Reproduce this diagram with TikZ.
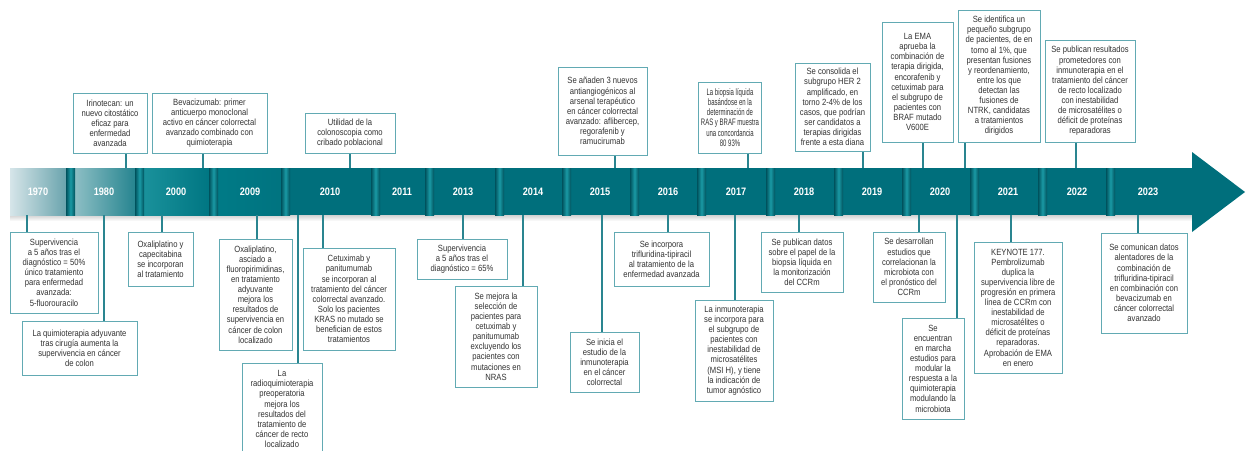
\documentclass[tikz,border=0pt]{standalone}
\usepackage{fontspec}
\setmainfont[FakeStretch=0.85]{Liberation Sans}
\newfontfamily\narrowfont[FakeStretch=0.64]{Liberation Sans}

\definecolor{bandc}{HTML}{006F7C}
\definecolor{divd}{HTML}{00525D}
\definecolor{divl}{HTML}{1A9AA5}
\definecolor{boxc}{HTML}{62AAB3}
\definecolor{linkc}{HTML}{2A8590}
\definecolor{txtc}{HTML}{333333}
\definecolor{lighta}{HTML}{D6E5E9}
\definecolor{lightb}{HTML}{6AA4AD}

\begin{document}
\begin{tikzpicture}[x=0.5pt, y=-0.5pt,
  evt/.style={draw=boxc, fill=white, line width=0.5pt, align=center, inner sep=1pt,
    text=txtc, font=\fontsize{4.5}{5.05}\selectfont},
  link/.style={draw=linkc, line width=0.8pt},
  year/.style={text=white, font=\fontsize{5.4}{6}\selectfont\bfseries}]
  \useasboundingbox (0,0) rectangle (1251,450);

  % Banda
  \shade[top color=black!18, bottom color=white] (10,215) rectangle (1192,221);
  \fill[bandc] (10,168) rectangle (1192,215);
  \fill[bandc] (1192,152) -- (1245,192) -- (1192,232) -- cycle;
  \shade[left color=lighta, right color=lightb] (10,168) rectangle (66,215);
  \shade[left color=bandc!45!white, right color=bandc!85!white] (75,168) rectangle (135,215);
  \shade[left color=bandc!85!cyan!90!white, right color=bandc!95!cyan] (144,168) rectangle (209,215);
  \shade[left color=bandc!92!cyan, right color=bandc!97!cyan] (218,168) rectangle (281,215);
  \foreach \d in {66,135,209,281,371,425,495,562,630,697,766,834,902,970,1038,1106}
    \shade[left color=divd, right color=divd, middle color=divl] (\d,168) rectangle (\d+9,215);

  % Años
  \foreach \yr/\x in {1970/38, 1980/104, 2000/176, 2009/250, 2010/330, 2011/402, 2013/463,
      2014/533, 2015/600, 2016/668, 2017/736, 2018/804, 2019/872, 2020/940, 2021/1008,
      2022/1077, 2023/1148}
    \node[year] (y\yr) at (\x,191.5) {\yr};

  % Arriba
  \node[evt, minimum width=37pt, minimum height=30pt] (irino) at (110,123)
    {Irinotecan: un\\nuevo citostático\\eficaz para\\enfermedad\\avanzada};
  \node[evt, minimum width=57.5pt, minimum height=30pt] (bevaci) at (209.5,123)
    {Bevacizumab: primer\\anticuerpo monoclonal\\activo en cáncer colorrectal\\avanzado combinado con\\quimioterapia};
  \node[evt, minimum width=45pt, minimum height=20pt] (colono) at (350,133)
    {Utilidad de la\\colonoscopia como\\cribado poblacional};
  \node[evt, minimum width=44.5pt, minimum height=44pt] (antiang) at (602.5,111)
    {Se añaden 3 nuevos\\antiangiogénicos al\\arsenal terapéutico\\en cáncer colorrectal\\avanzado: aflibercep,\\regorafenib y\\ramucirumab};
  \node[evt, minimum width=31pt, minimum height=35.5pt, font=\narrowfont\fontsize{4.7}{5.05}\selectfont] (biopsia) at (730,117.5)
    {La biopsia líquida\\basándose en la\\determinación de\\RAS y BRAF muestra\\una concordancia\\80 93\%};
  \node[evt, minimum width=37.5pt, minimum height=44pt] (consolida) at (832.5,107)
    {Se consolida el\\subgrupo HER 2\\amplificado, en\\torno 2-4\% de los\\casos, que podrían\\ser candidatos a\\terapias dirigidas\\frente a esta diana};
  \node[evt, minimum width=35.5pt, minimum height=60pt] (ema) at (917.5,82)
    {La EMA\\aprueba la\\combinación de\\terapia dirigida,\\encorafenib y\\cetuximab para\\el subgrupo de\\pacientes con\\BRAF mutado\\V600E};
  \node[evt, minimum width=41pt, minimum height=66pt] (ntrk) at (999,76)
    {Se identifica un\\pequeño subgrupo\\de pacientes, de en\\torno al 1\%, que\\presentan fusiones\\y reordenamiento,\\entre los que\\detectan las\\fusiones de\\NTRK, candidatas\\a tratamientos\\dirigidos};
  \node[evt, minimum width=45pt, minimum height=51pt] (recto) at (1090,91)
    {Se publican resultados\\prometedores con\\inmunoterapia en el\\tratamiento del cáncer\\de recto localizado\\con inestabilidad\\de microsatélites o\\déficit de proteínas\\reparadoras};

  % Abajo
  \node[evt, minimum width=44pt, minimum height=40.5pt] (surv50) at (54,272.5)
    {Supervivencia\\a 5 años tras el\\diagnóstico = 50\%\\único tratamiento\\para enfermedad\\avanzada:\\5-fluorouracilo};
  \node[evt, minimum width=57.5pt, minimum height=27pt] (quimio) at (79.5,348)
    {La quimioterapia adyuvante\\tras cirugía aumenta la\\supervivencia en cáncer\\de colon};
  \node[evt, minimum width=32.5pt, minimum height=27pt] (oxcap) at (160.5,259)
    {Oxaliplatino y\\capecitabina\\se incorporan\\al tratamiento};
  \node[evt, minimum width=36.5pt, minimum height=55.5pt] (oxflu) at (255.5,294.5)
    {Oxaliplatino,\\asciado a\\fluoropirimidinas,\\en tratamiento\\adyuvante\\mejora los\\resultados de\\supervivencia en\\cáncer de colon\\localizado};
  \node[evt, minimum width=40pt, minimum height=46pt] (radio) at (282,409)
    {La\\radioquimioterapia\\preoperatoria\\mejora los\\resultados del\\tratamiento de\\cáncer de recto\\localizado};
  \node[evt, minimum width=46pt, minimum height=51pt] (cetux) at (349,299)
    {Cetuximab y\\panitumumab\\se incorporan al\\tratamiento del cáncer\\colorrectal avanzado.\\Solo los pacientes\\KRAS no mutado se\\benefician de estos\\tratamientos};
  \node[evt, minimum width=45pt, minimum height=20pt] (surv65) at (462,259)
    {Supervivencia\\a 5 años tras el\\diagnóstico = 65\%};
  \node[evt, minimum width=41pt, minimum height=50.5pt] (nras) at (496,336.5)
    {Se mejora la\\selección de\\pacientes para\\cetuximab y\\panitumumab\\excluyendo los\\pacientes con\\mutaciones en\\NRAS};
  \node[evt, minimum width=34.5pt, minimum height=30pt] (inicia) at (604.5,362)
    {Se inicia el\\estudio de la\\inmunoterapia\\en el cáncer\\colorrectal};
  \node[evt, minimum width=47.5pt, minimum height=27pt] (trifl) at (661.5,259)
    {Se incorpora\\trifluridina-tipiracil\\al tratamiento de la\\enfermedad avanzada};
  \node[evt, minimum width=39pt, minimum height=50.5pt] (msi) at (734,350.5)
    {La inmunoterapia\\se incorpora para\\el subgrupo de\\pacientes con\\inestabilidad de\\microsatélites\\(MSI H), y tiene\\la indicación de\\tumor agnóstico};
  \node[evt, minimum width=41pt, minimum height=30pt] (datos) at (802,262)
    {Se publican datos\\sobre el papel de la\\biopsia líquida en\\la monitorización\\del CCRm};
  \node[evt, minimum width=36pt, minimum height=35pt] (microb) at (909,267)
    {Se desarrollan\\estudios que\\correlacionan la\\microbiota con\\el pronóstico del\\CCRm};
  \node[evt, minimum width=31pt, minimum height=50.5pt] (marcha) at (933,368.5)
    {Se\\encuentran\\en marcha\\estudios para\\modular la\\respuesta a la\\quimioterapia\\modulando la\\microbiota};
  \node[evt, minimum width=44pt, minimum height=65.5pt] (keynote) at (1018,307.5)
    {KEYNOTE 177.\\Pembrolizumab\\duplica la\\supervivencia libre de\\progresión en primera\\línea de CCRm con\\inestabilidad de\\microsatélites o\\déficit de proteínas\\reparadoras.\\Aprobación de EMA\\en enero};
  \node[evt, minimum width=43pt, minimum height=50pt] (comunic) at (1144,283)
    {Se comunican datos\\alentadores de la\\combinación de\\trifluridina-tipiracil\\en combinación con\\bevacizumab en\\cáncer colorrectal\\avanzado};

  % Conectores
  \foreach \n/\x in {irino/126, bevaci/203, colono/350, antiang/615, biopsia/748,
      consolida/863, ema/923, ntrk/965, recto/1076} {
    \coordinate (\n-c) at (\x,168);
    \draw[link] (\n-c) -- (\n-c |- \n.south);
  }
  \foreach \n/\x in {surv50/27, quimio/104, oxcap/162, oxflu/257, radio/298, cetux/323,
      surv65/463, nras/523, inicia/602, trifl/668, msi/735, datos/799, microb/919,
      marcha/957, keynote/1011, comunic/1138} {
    \coordinate (\n-c) at (\x,215);
    \draw[link] (\n-c) -- (\n-c |- \n.north);
  }
\end{tikzpicture}
\end{document}
